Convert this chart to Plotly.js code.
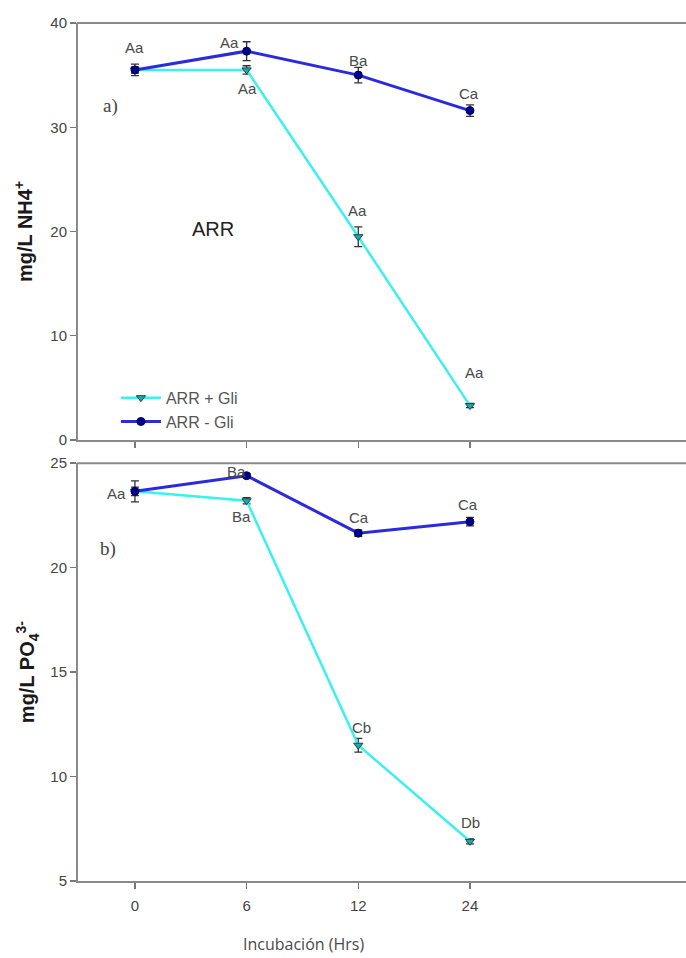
<!DOCTYPE html>
<html>
<head>
<meta charset="utf-8">
<script src="https://cdn.plot.ly/plotly-3.0.1.min.js"></script>
<style>html,body{margin:0;padding:0;background:#fff;overflow:hidden}#chart{width:700px;height:958px}</style>
</head>
<body>
<div id="chart"></div>
<script>
// ---- data ----
var hours = ["0", "6", "12", "24"];
var seriesNames = ["ARR + Gli", "ARR - Gli"];

var nh4Plus = [35.5, 35.5, 19.5, 3.3];
var nh4PlusErr = [0.3, 0.4, 0.95, 0.2];
var nh4Minus = [35.5, 37.3, 35.0, 31.6];
var nh4MinusErr = [0.55, 0.9, 0.75, 0.55];

var po4Plus = [23.65, 23.2, 11.5, 6.9];
var po4PlusErr = [0.2, 0.15, 0.33, 0.12];
var po4Minus = [23.65, 24.4, 21.65, 22.2];
var po4MinusErr = [0.5, 0.1, 0.15, 0.2];

var nh4PlusLabels = ["", "Aa", "Aa", "Aa"];
var nh4MinusLabels = ["Aa", "Aa", "Ba", "Ca"];
var po4PlusLabels = ["", "Ba", "Cb", "Db"];
var po4MinusLabels = ["Aa", "Ba", "Ca", "Ca"];

// ---- styles ----
var cyan = "#3cf0f0", blue = "#2b2bdc";
var font = "Liberation Sans, Arial, sans-serif";
var errStyle = {color: "#333", thickness: 1.3, width: 4};

function trace(y, err, name, color, sym, xa, ya, showleg) {
  var isTri = sym === "triangle-down";
  return {
    x: hours, y: y, name: name, type: "scatter", mode: "lines+markers",
    xaxis: xa, yaxis: ya, showlegend: showleg,
    line: {color: color, width: isTri ? 2.5 : 3},
    marker: isTri ? {symbol: sym, size: 8, color: "#1fa8a8", line: {color: "#124848", width: 1}}
                  : {symbol: sym, size: 8, color: "#00008c", line: {color: "#000050", width: 1}},
    error_y: Object.assign({type: "data", array: err, visible: true}, errStyle)
  };
}

var data = [
  trace(nh4Plus, nh4PlusErr, seriesNames[0], cyan, "triangle-down", "x", "y", true),
  trace(nh4Minus, nh4MinusErr, seriesNames[1], blue, "circle", "x", "y", true),
  trace(po4Plus, po4PlusErr, seriesNames[0], cyan, "triangle-down", "x2", "y2", false),
  trace(po4Minus, po4MinusErr, seriesNames[1], blue, "circle", "x2", "y2", false)
];

// label offsets (pixels) relative to each point
var offNh4Plus = [[0,0],[1,-19],[-1,26],[5,33]];
var offNh4Minus = [[0,22],[-17,9],[0,15],[-1,17]];
var offPo4Plus = [[0,0],[-5,-16],[3,18],[1,19]];
var offPo4Minus = [[-18,-2],[-10,4],[1,16],[-2,17]];

var annotations = [];
function addLabels(labels, vals, offs, xr, yr) {
  for (var i = 0; i < labels.length; i++) {
    if (!labels[i]) continue;
    annotations.push({
      x: i, y: vals[i], xref: xr, yref: yr, text: labels[i], showarrow: false,
      xshift: offs[i][0], yshift: offs[i][1],
      font: {family: font, size: 15, color: "#4a4a4a"}
    });
  }
}
addLabels(nh4PlusLabels, nh4Plus, offNh4Plus, "x", "y");
addLabels(nh4MinusLabels, nh4Minus, offNh4Minus, "x", "y");
addLabels(po4PlusLabels, po4Plus, offPo4Plus, "x2", "y2");
addLabels(po4MinusLabels, po4Minus, offPo4Minus, "x2", "y2");

annotations.push({x: -0.22, y: 32.0, xref: "x", yref: "y", text: "a)", showarrow: false,
  font: {family: "Liberation Serif, Times New Roman, serif", size: 19, color: "#444"}});
annotations.push({x: 0.70, y: 20.2, xref: "x", yref: "y", text: "ARR", showarrow: false,
  font: {family: font, size: 20, color: "#222"}});
annotations.push({x: -0.24, y: 20.9, xref: "x2", yref: "y2", text: "b)", showarrow: false,
  font: {family: "Liberation Serif, Times New Roman, serif", size: 19, color: "#444"}});
// x-axis title (centered under the tick region, as in the reference)
annotations.push({x: 0.362, y: -0.073, xref: "paper", yref: "paper", text: "Incubación (Hrs)",
  showarrow: false, yanchor: "middle", font: {family: "Open Sans, sans-serif", size: 16, color: "#4a4a4a"}});

var axCommon = {
  showline: true, linecolor: "#8a8a8a", linewidth: 2, showgrid: false, zeroline: false,
  ticks: "outside", ticklen: 6, tickwidth: 1.5, tickcolor: "#777",
  tickfont: {family: font, size: 15, color: "#444"}
};
function ax(extra) { return Object.assign({}, axCommon, extra); }

var yTitleFont = {family: font, size: 20, color: "#1a1a1a", weight: "bold"};
var xRange = [-0.51, 5.06];

var layout = {
  width: 700, height: 958,
  margin: {l: 78, r: 0, t: 23, b: 77},
  paper_bgcolor: "#fff", plot_bgcolor: "#fff",
  showlegend: true,
  legend: {x: 0.061, y: 0.583, xanchor: "left", yanchor: "top", bgcolor: "rgba(0,0,0,0)",
    font: {family: font, size: 16, color: "#555"}, tracegroupgap: 0, itemwidth: 40},
  xaxis: ax({type: "category", categoryorder: "array", categoryarray: hours, range: xRange,
    anchor: "y", showticklabels: false}),
  yaxis: ax({domain: [0.514, 1], range: [0, 40], dtick: 10, anchor: "x",
    title: {text: "mg/L NH4<sup>+</sup>", standoff: 12, font: yTitleFont}}),
  xaxis2: ax({type: "category", categoryorder: "array", categoryarray: hours, range: xRange,
    anchor: "y2", ticklabelstandoff: 4}),
  yaxis2: ax({domain: [0, 0.487], range: [5, 25], dtick: 5, anchor: "x2",
    title: {text: "mg/L PO<sub>4</sub><sup>3-</sup>", standoff: 10, font: yTitleFont}}),
  shapes: [
    {type: "line", xref: "paper", yref: "paper", x0: -0.002, x1: 1, y0: 1, y1: 1,
      line: {color: "#8a8a8a", width: 2}},
    {type: "line", xref: "paper", yref: "paper", x0: -0.002, x1: 1, y0: 0.487, y1: 0.487,
      line: {color: "#8a8a8a", width: 2}}
  ],
  annotations: annotations
};

Plotly.newPlot("chart", data, layout, {staticPlot: true, displayModeBar: false});
</script>
</body>
</html>
